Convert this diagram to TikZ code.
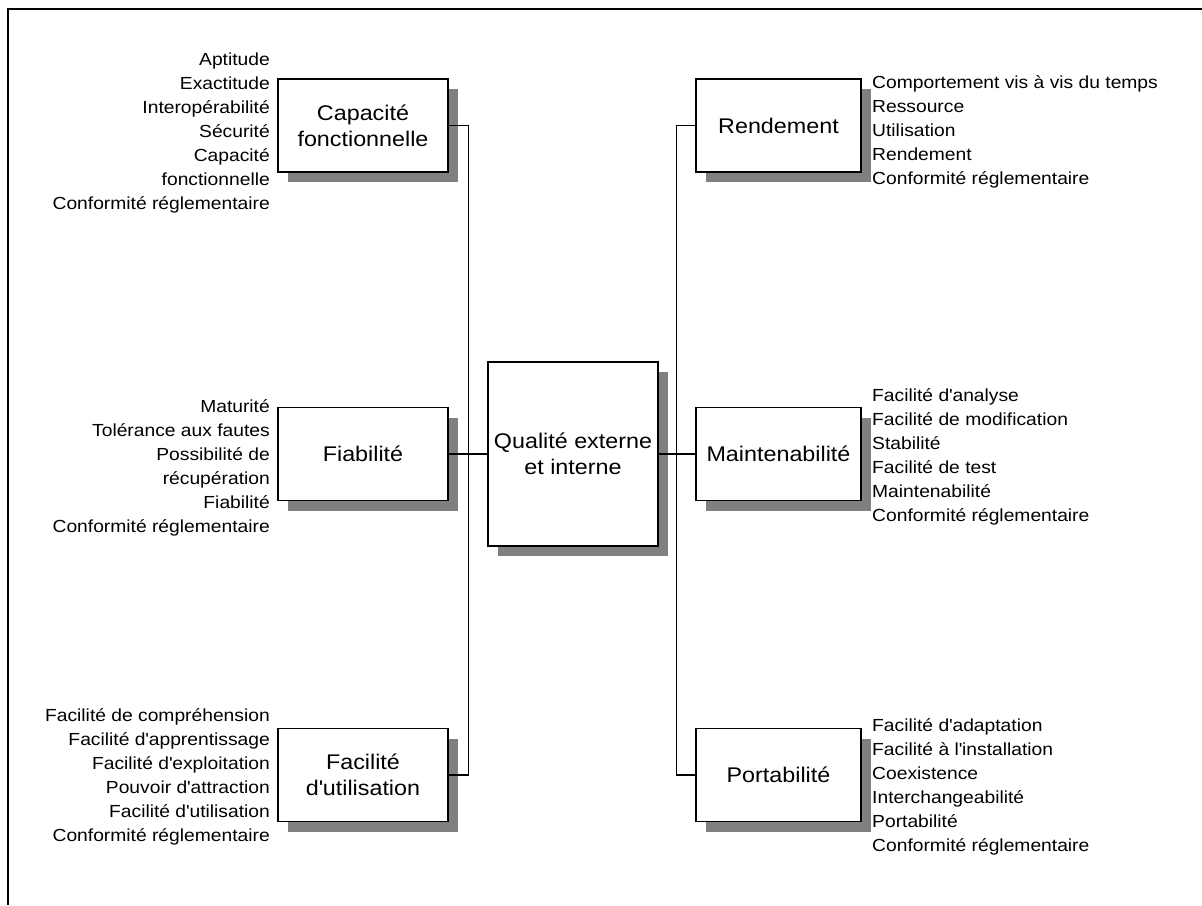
\documentclass[tikz,border=0pt]{standalone}
\usepackage{fontspec}
\setmainfont{Liberation Sans}[FakeStretch=1.1]
\usetikzlibrary{shadows}
\newcommand\ap{\textquotesingle}
\begin{document}
\begin{tikzpicture}[x=1pt,y=-1pt,
  box/.style={draw, line width=1.3pt, fill=white, minimum width=170pt,
    minimum height=93pt, inner sep=0pt, align=center,
    font=\fontsize{21.2}{26}\selectfont,
    drop shadow={shadow xshift=10pt, shadow yshift=-10pt, fill=black!50, opacity=1}},
  rbox/.style={box, minimum width=165pt},
  item/.style={inner sep=0pt, font=\fontsize{17.5}{24}\selectfont},
  litem/.style={item, anchor=base east},
  ritem/.style={item, anchor=base west},
  link/.style={line width=1.3pt}]
\useasboundingbox (0,0) rectangle (1202,905);

% frame
\draw[line width=1.6pt] (1202,9) -- (8,9) -- (8,905);

% characteristic boxes
\node[box] (cap) at (363,125.5) {Capacité\\fonctionnelle};
\node[box] (fia) at (363,454) {Fiabilité};
\node[box] (fac) at (363,775) {Facilité\\d\ap utilisation};
\node[box, minimum height=184pt] (qual) at (573,454) {Qualité externe\\et interne};
\node[rbox] (ren) at (778.5,125.5) {Rendement};
\node[rbox] (mai) at (778.5,454) {Maintenabilité};
\node[rbox] (por) at (778.5,775) {Portabilité};

% connectors
\draw[link] (cap.east) -- ++(20,0) |- (fac.east);
\draw[link] (fia.east) -- (qual.west);
\draw[link] (qual.east) -- (mai.west);
\draw[link] (ren.west) -- ++(-19,0) |- (por.west);

% sub-characteristics
\foreach \t [count=\i] in {Aptitude, Exactitude, Interopérabilité, Sécurité,
    Capacité, fonctionnelle, Conformité réglementaire}
  \node[litem] (capi\i) at (270,{41+24*\i}) {\t};
\foreach \t [count=\i] in {Maturité, Tolérance aux fautes, Possibilité de,
    récupération, Fiabilité, Conformité réglementaire}
  \node[litem] (fiai\i) at (270,{388+24*\i}) {\t};
\foreach \t [count=\i] in {Facilité de compréhension, Facilité d\ap apprentissage,
    Facilité d\ap exploitation, Pouvoir d\ap attraction, Facilité d\ap utilisation,
    Conformité réglementaire}
  \node[litem] (faci\i) at (270,{697+24*\i}) {\t};
\foreach \t [count=\i] in {Comportement vis à vis du temps, Ressource, Utilisation,
    Rendement, Conformité réglementaire}
  \node[ritem] (reni\i) at (872,{64+24*\i}) {\t};
\foreach \t [count=\i] in {Facilité d\ap analyse, Facilité de modification, Stabilité,
    Facilité de test, Maintenabilité, Conformité réglementaire}
  \node[ritem] (maii\i) at (872,{377+24*\i}) {\t};
\foreach \t [count=\i] in {Facilité d\ap adaptation, Facilité à l\ap installation,
    Coexistence, Interchangeabilité, Portabilité, Conformité réglementaire}
  \node[ritem] (pori\i) at (872,{707+24*\i}) {\t};
\end{tikzpicture}
\end{document}
